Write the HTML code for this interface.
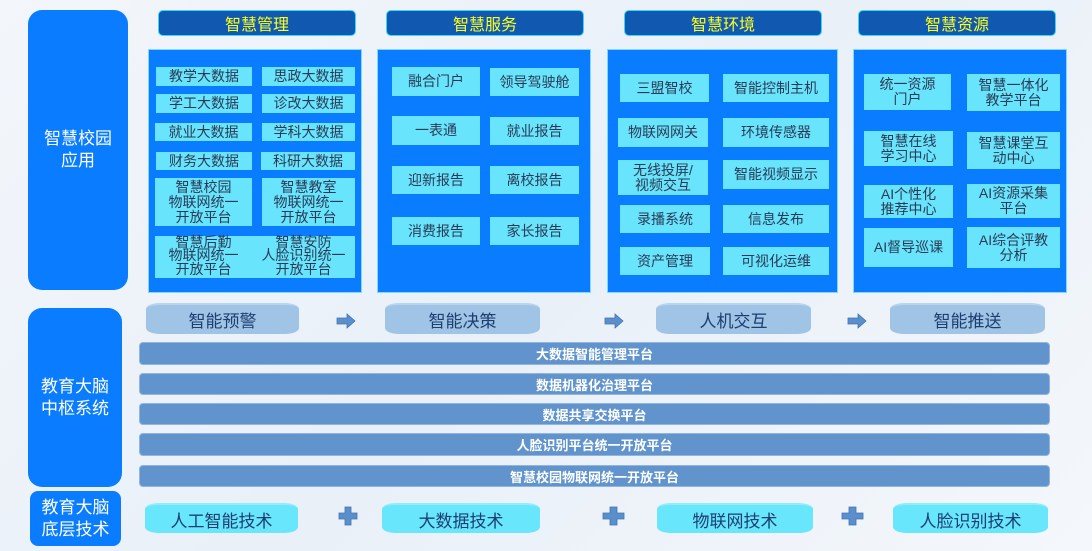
<!DOCTYPE html>
<html><head><meta charset="utf-8"><style>
*{margin:0;padding:0;box-sizing:border-box}
body{width:1092px;height:551px;overflow:hidden;background:linear-gradient(135deg,#f3f6fb,#e9f0f8 50%,#f4f7fb);font-family:"Liberation Sans","Noto Sans CJK SC",sans-serif;position:relative}
.a{position:absolute;display:flex;align-items:center;justify-content:center;text-align:center}
.lb{background:#0a7cff;color:#fff;border-radius:14px;font-size:17px;line-height:22px}
.hd{background:#1159b0;border:1.5px solid #35d6ff;border-radius:5px;color:#ffff1a;font-size:16px}
.pn{background:#0a7cff;border:1px solid #7fd8ff}
.it{background:#68e4fc;color:#2a3a55;font-size:14px;line-height:15px}
.cy{background:#a0c4e6;color:#1c3f70;font-size:17px;border-radius:14px/6px;border-top:2px solid #b8d4ee}
.cy2{background:#68e6fc;color:#1c3f70;font-size:17px;border-radius:14px/6px;border-top:2px solid #90eefc}
.bar{background:#6194cc;color:#fff;font-weight:bold;font-size:13px;border-radius:4px;border:1px solid #8fb5e0}
</style></head><body>
<div class="a lb" style="left:28px;top:10px;width:100px;height:280px">智慧校园<br>应用</div>
<div class="a lb" style="left:28px;top:308px;width:94px;height:179px">教育大脑<br>中枢系统</div>
<div class="a lb" style="left:30px;top:491px;width:91px;height:55px;border-radius:8px">教育大脑<br>底层技术</div>

<div class="a hd" style="left:158px;top:10px;width:198px;height:26px">智慧管理</div>
<div class="a hd" style="left:386px;top:10px;width:198px;height:26px">智慧服务</div>
<div class="a hd" style="left:624px;top:10px;width:198px;height:26px">智慧环境</div>
<div class="a hd" style="left:858px;top:10px;width:198px;height:26px">智慧资源</div>

<div class="a pn" style="left:148px;top:49px;width:214px;height:244px"></div>
<div class="a pn" style="left:377px;top:49px;width:214px;height:244px"></div>
<div class="a pn" style="left:607px;top:49px;width:231px;height:244px"></div>
<div class="a pn" style="left:853px;top:49px;width:214px;height:244px"></div>

<div class="a it" style="left:156px;top:67px;width:96px;height:19px">教学大数据</div>
<div class="a it" style="left:262px;top:67px;width:93px;height:19px">思政大数据</div>
<div class="a it" style="left:156px;top:94px;width:96px;height:19px">学工大数据</div>
<div class="a it" style="left:262px;top:94px;width:93px;height:19px">诊改大数据</div>
<div class="a it" style="left:155px;top:123px;width:97px;height:18px">就业大数据</div>
<div class="a it" style="left:262px;top:123px;width:93px;height:18px">学科大数据</div>
<div class="a it" style="left:156px;top:152px;width:96px;height:18px">财务大数据</div>
<div class="a it" style="left:261px;top:152px;width:94px;height:18px">科研大数据</div>
<div class="a it" style="left:155px;top:178px;width:97px;height:48px">智慧校园<br>物联网统一<br>开放平台</div>
<div class="a it" style="left:262px;top:178px;width:93px;height:48px">智慧教室<br>物联网统一<br>开放平台</div>
<div class="a it" style="left:155px;top:236px;width:200px;height:42px"></div>
<div class="a it" style="left:155px;top:234px;width:97px;height:44px;background:none;line-height:13.5px">智慧后勤<br>物联网统一<br>开放平台</div>
<div class="a it" style="left:252px;top:234px;width:103px;height:44px;background:none;line-height:13.5px">智慧安防<br>人脸识别统一<br>开放平台</div>

<div class="a it" style="left:392px;top:67px;width:88px;height:29px">融合门户</div>
<div class="a it" style="left:490px;top:68px;width:89px;height:28px">领导驾驶舱</div>
<div class="a it" style="left:392px;top:116px;width:88px;height:29px">一表通</div>
<div class="a it" style="left:490px;top:117px;width:89px;height:28px">就业报告</div>
<div class="a it" style="left:392px;top:166px;width:88px;height:28px">迎新报告</div>
<div class="a it" style="left:490px;top:166px;width:89px;height:28px">离校报告</div>
<div class="a it" style="left:392px;top:217px;width:88px;height:28px">消费报告</div>
<div class="a it" style="left:490px;top:217px;width:89px;height:28px">家长报告</div>

<div class="a it" style="left:620px;top:74px;width:89px;height:28px">三盟智校</div>
<div class="a it" style="left:723px;top:74px;width:106px;height:28px">智能控制主机</div>
<div class="a it" style="left:618px;top:118px;width:90px;height:29px">物联网网关</div>
<div class="a it" style="left:723px;top:118px;width:106px;height:29px">环境传感器</div>
<div class="a it" style="left:618px;top:160px;width:90px;height:35px">无线投屏/<br>视频交互</div>
<div class="a it" style="left:723px;top:160px;width:106px;height:29px">智能视频显示</div>
<div class="a it" style="left:620px;top:205px;width:90px;height:28px">录播系统</div>
<div class="a it" style="left:723px;top:205px;width:106px;height:28px">信息发布</div>
<div class="a it" style="left:620px;top:247px;width:90px;height:28px">资产管理</div>
<div class="a it" style="left:723px;top:247px;width:106px;height:28px">可视化运维</div>

<div class="a it" style="left:864px;top:74px;width:87px;height:36px">统一资源<br>门户</div>
<div class="a it" style="left:967px;top:74px;width:93px;height:37px">智慧一体化<br>教学平台</div>
<div class="a it" style="left:864px;top:131px;width:89px;height:35px">智慧在线<br>学习中心</div>
<div class="a it" style="left:967px;top:132px;width:93px;height:37px">智慧课堂互<br>动中心</div>
<div class="a it" style="left:864px;top:185px;width:89px;height:33px">AI个性化<br>推荐中心</div>
<div class="a it" style="left:967px;top:184px;width:93px;height:34px">AI资源采集<br>平台</div>
<div class="a it" style="left:864px;top:228px;width:89px;height:39px">AI督导巡课</div>
<div class="a it" style="left:967px;top:227px;width:93px;height:41px">AI综合评教<br>分析</div>

<div class="a cy" style="left:146px;top:303px;width:153px;height:31px">智能预警</div>
<div class="a cy" style="left:385px;top:303px;width:155px;height:31px">智能决策</div>
<div class="a cy" style="left:656px;top:303px;width:155px;height:31px">人机交互</div>
<div class="a cy" style="left:890px;top:303px;width:155px;height:31px">智能推送</div>
<svg style="position:absolute;left:0;top:0" width="1092" height="551">
<g fill="#5a8fcc" stroke="#3f74b4" stroke-width="0.8">
<polygon points="337,318 347,318 347,314 355,321 347,328 347,324 337,324"/>
<polygon points="605,318 615,318 615,314 623,321 615,328 615,324 605,324"/>
<polygon points="848,318 858,318 858,314 866,321 858,328 858,324 848,324"/>
<polygon points="339,513 345,513 345,507 351,507 351,513 357,513 357,519 351,519 351,525 345,525 345,519 339,519"/>
<polygon points="603,513 610,513 610,507 617,507 617,513 624,513 624,519 617,519 617,525 610,525 610,519 603,519"/>
<polygon points="842,513 849,513 849,507 856,507 856,513 863,513 863,519 856,519 856,525 849,525 849,519 842,519"/>
</g></svg>
<div class="a bar" style="left:139px;top:342px;width:911px;height:23px">大数据智能管理平台</div>
<div class="a bar" style="left:139px;top:373px;width:911px;height:22px">数据机器化治理平台</div>
<div class="a bar" style="left:139px;top:403px;width:911px;height:22px">数据共享交换平台</div>
<div class="a bar" style="left:139px;top:433px;width:911px;height:23px">人脸识别平台统一开放平台</div>
<div class="a bar" style="left:139px;top:465px;width:911px;height:22px">智慧校园物联网统一开放平台</div>

<div class="a cy2" style="left:145px;top:503px;width:153px;height:30px">人工智能技术</div>
<div class="a cy2" style="left:382px;top:503px;width:158px;height:30px">大数据技术</div>
<div class="a cy2" style="left:657px;top:503px;width:156px;height:30px">物联网技术</div>
<div class="a cy2" style="left:893px;top:503px;width:155px;height:30px">人脸识别技术</div>
</body></html>
